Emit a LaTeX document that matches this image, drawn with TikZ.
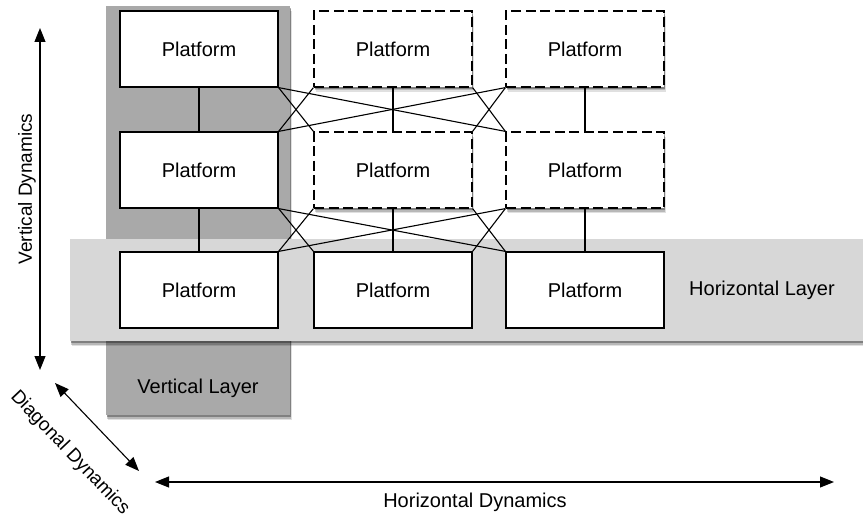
\documentclass[tikz,border=0pt]{standalone}
\usepackage{fontspec}
\setmainfont{Liberation Sans}
\usetikzlibrary{arrows.meta,shadows}
\definecolor{vlayercol}{HTML}{A9A9A9}
\definecolor{hlayercol}{HTML}{D7D7D7}
\begin{document}
\begin{tikzpicture}[x=1pt,y=-1pt,
  txt/.style={font=\fontsize{20}{24}\selectfont},
  softshadow/.style={
    general shadow={shadow xshift=1.5pt, shadow yshift=-5pt, fill=black, opacity=0.12},
    general shadow={shadow xshift=1pt, shadow yshift=-3.5pt, fill=black, opacity=0.18},
    general shadow={shadow xshift=0.5pt, shadow yshift=-2pt, fill=black, opacity=0.3}},
  plat/.style={draw, fill=white, line width=1.2pt, minimum width=158pt, minimum height=76pt, inner sep=0pt, txt},
  ghost/.style={plat, dash pattern=on 10pt off 4.5pt, softshadow},
  layer/.style={inner sep=0pt, softshadow},
  conn/.style={line width=1.1pt},
  dyn/.style={line width=1.1pt, {Triangle[length=14pt,width=11pt]}-{Triangle[length=14pt,width=11pt]}}]
\path[use as bounding box] (0,0) rectangle (863,519);
% layers
\node[layer, fill=vlayercol, minimum width=184pt, minimum height=409pt] (vl) at (198,210.5) {};
\node[layer, fill=hlayercol, minimum width=800pt, minimum height=102pt] (hl) at (470,290) {};
\node[txt] (vlt) at (198,388) {Vertical Layer};
\node[txt] (hlt) at (762,290) {Horizontal Layer};
% platforms
\node[plat]  (p11) at (199,49)  {Platform};
\node[ghost] (p12) at (393,49)  {Platform};
\node[ghost] (p13) at (585,49)  {Platform};
\node[plat]  (p21) at (199,170) {Platform};
\node[ghost] (p22) at (393,170) {Platform};
\node[ghost] (p23) at (585,170) {Platform};
\node[plat]  (p31) at (199,290) {Platform};
\node[plat]  (p32) at (393,290) {Platform};
\node[plat]  (p33) at (585,290) {Platform};
% connectors rows 1-2
\draw[conn] (p11.south) -- (p21.north);
\draw[conn] (p12.south) -- (p22.north);
\draw[conn] (p13.south) -- (p23.north);
\draw[conn] (p11.south east) -- (p22.north west);
\draw[conn] (p21.north east) -- (p12.south west);
\draw[conn] (p12.south east) -- (p23.north west);
\draw[conn] (p22.north east) -- (p13.south west);
\draw[conn] (p11.south east) -- (p23.north west);
\draw[conn] (p21.north east) -- (p13.south west);
% connectors rows 2-3
\draw[conn] (p21.south) -- (p31.north);
\draw[conn] (p22.south) -- (p32.north);
\draw[conn] (p23.south) -- (p33.north);
\draw[conn] (p21.south east) -- (p32.north west);
\draw[conn] (p31.north east) -- (p22.south west);
\draw[conn] (p22.south east) -- (p33.north west);
\draw[conn] (p32.north east) -- (p23.south west);
\draw[conn] (p21.south east) -- (p33.north west);
\draw[conn] (p31.north east) -- (p23.south west);
% dynamics arrows
\coordinate (vt) at (40,28);
\coordinate (vb) at (40,370);
\coordinate (da) at (55,383);
\coordinate (db) at (139,471);
\coordinate (ha) at (155,482);
\coordinate (hb) at (834,482);
\draw[dyn] (vt) -- (vb);
\draw[dyn] (da) -- (db);
\draw[dyn] (ha) -- (hb);
\node[txt, font=\fontsize{19}{23}\selectfont, rotate=90] (vdt) at (27,189) {Vertical Dynamics};
\node[txt, font=\fontsize{19}{23}\selectfont, rotate=-46.5] (ddt) at (70,453) {Diagonal Dynamics};
\node[txt] (hdt) at (475,502) {Horizontal Dynamics};
\end{tikzpicture}
\end{document}
